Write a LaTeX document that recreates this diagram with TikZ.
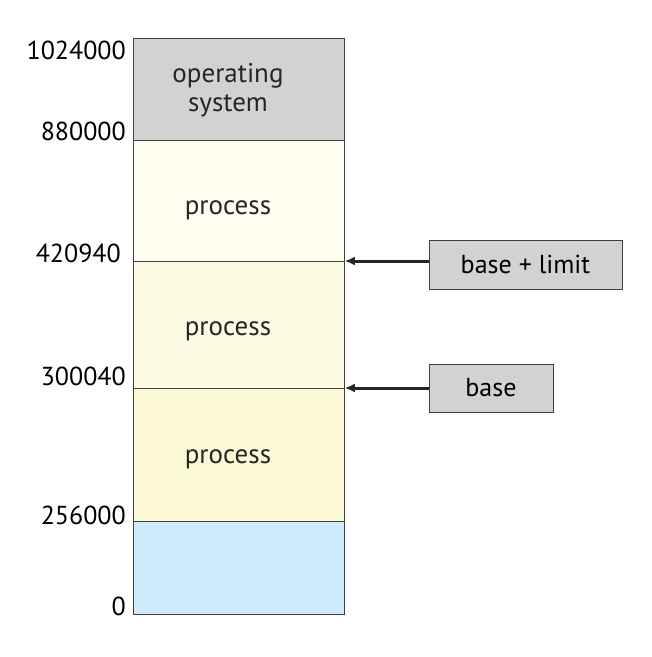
\documentclass[tikz,border=0pt]{standalone}
\usepackage{fontspec}
\setmainfont{PT Sans}
\usetikzlibrary{arrows.meta}
\begin{document}
\begin{tikzpicture}[x=1pt,y=-1pt,
  blk/.style={draw=black!75,line width=0.8pt,minimum width=211pt,inner sep=0pt,anchor=north west},
  lbl/.style={anchor=base east,inner sep=0pt,font=\fontsize{26}{30}\selectfont},
  txt/.style={font=\fontsize{27}{30}\selectfont,align=center,text=black!85},
  box/.style={draw=black!75,fill=gray!35,line width=0.8pt,inner sep=0pt,font=\fontsize{26}{30}\selectfont},
  arr/.style={-{Latex[length=10pt,width=9pt]},line width=3pt,black!85}]
\useasboundingbox (0,0) rectangle (652,657);
\node[blk,fill=gray!35,minimum height=102pt] (os) at (133,38) {};
\node[blk,fill={rgb,255:red,255;green,254;blue,240},minimum height=121pt] (p1) at (133,140) {};
\node[blk,fill={rgb,255:red,253;green,251;blue,228},minimum height=127pt] (p2) at (133,261) {};
\node[blk,fill={rgb,255:red,251;green,249;blue,214},minimum height=133pt] (p3) at (133,388) {};
\node[blk,fill={rgb,255:red,206;green,236;blue,253},minimum height=93pt] (fr) at (133,521) {};
\node[txt] (t0) at (228,90) {operating\\[-1pt]system};
\node[txt] (t1) at (228,210) {process};
\node[txt] (t2) at (228,331) {process};
\node[txt] (t3) at (228,459) {process};
\node[lbl] (l1) at (126,59) {1024000};
\node[lbl] (l2) at (126,140) {880000};
\node[lbl] (l3) at (121,262) {420940};
\node[lbl] (l4) at (126,385) {300040};
\node[lbl] (l5) at (126,524) {256000};
\node[lbl] (l6) at (126,615) {0};
\node[box,minimum width=193pt,minimum height=49pt] (bl) at (525.5,264.5) {base + limit};
\node[box,minimum width=124pt,minimum height=48pt] (b) at (491,388) {base};
\draw[arr] (bl.west |- p2.north) -- (p2.north east);
\draw[arr] (b.west) -- (p3.north east);
\end{tikzpicture}
\end{document}
